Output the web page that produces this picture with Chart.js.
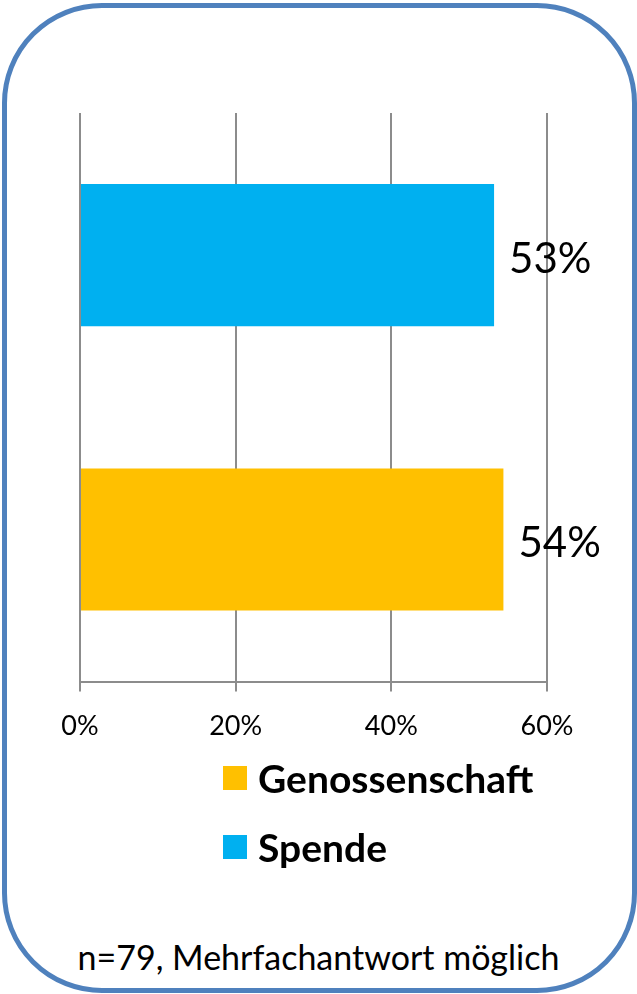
<!DOCTYPE html>
<html>
<head>
<meta charset="utf-8">
<script src="https://cdn.jsdelivr.net/npm/chart.js@4/dist/chart.umd.min.js"></script>
<style>
    html, body { margin:0; padding:0; background:#fff; }
    body { width:637px; height:994px; position:relative; overflow:hidden; font-family: Lato, "Open Sans", sans-serif; }
    #rahmen {
        position:absolute; left:2px; top:3px; width:625px; height:980px;
        border:5px solid #4f81bd; border-radius:100px;
    }
    #wrap { position:absolute; left:0; top:0; width:637px; height:760px; }
    #legende { position:absolute; left:223px; top:743px; }
    .item { display:flex; align-items:center; height:69px; font-weight:bold; font-size:39px; color:#000; }
    .item span.box { width:24px; height:24px; margin-right:11px; display:inline-block; }
    #fussnote { position:absolute; left:0; width:637px; top:936px; text-align:center; font-size:34px; color:#000; }
</style>
</head>
<body>
<div id="rahmen"></div>
<div id="wrap"><canvas id="grafik"></canvas></div>
<div id="legende"></div>
<div id="fussnote">n=79, Mehrfachantwort möglich</div>

<script>
// DATEN (oben nach unten)
const kategorien = ['Spende', 'Genossenschaft'];
const werte = [53.2, 54.4];
const farben = ['#00b0f0', '#ffc000'];
const ticksX = [0, 20, 40, 60];

// LEGENDE (Excel-Reihenfolge: umgekehrt)
const legende = document.getElementById('legende');
kategorien.slice().reverse().forEach((k, i) => {
    let idx = kategorien.length - 1 - i;
    legende.insertAdjacentHTML('beforeend',
        `<div class="item"><span class="box" style="background:${farben[idx]}"></span>${k}</div>`);
});

// WERTE AN DEN BALKEN
const wertLabels = {
    id: 'wertLabels',
    afterDatasetsDraw(chart){
        let ctx = chart.ctx;
        ctx.save();
        ctx.font = '42px Lato, "Open Sans", sans-serif';
        ctx.fillStyle = '#000';
        ctx.textBaseline = 'middle';
        chart.getDatasetMeta(0).data.forEach((bar, i) => {
            ctx.fillText(Math.round(werte[i]) + '%', bar.x + 15, bar.y + 4);
        });
        ctx.restore();
    }
};

let canvas = document.getElementById('grafik');

new Chart(canvas, {
    type: 'bar',
    data: {
        labels: kategorien,
        datasets: [{
            data: werte,
            backgroundColor: farben,
            categoryPercentage: 1,
            barPercentage: 0.5
        }]
    },
    options: {
        indexAxis: 'y',
        responsive: true,
        maintainAspectRatio: false,
        animation: false,
        layout: { padding: { left: 80, right: 90, top: 113, bottom: 0 } },
        plugins: {
            legend: { display: false },
            tooltip: { enabled: false }
        },
        scales: {
            y: { display: false },
            x: {
                min: 0,
                max: 60,
                afterBuildTicks: axis => { axis.ticks = ticksX.map(v => ({ value: v })); },
                grid: { color: '#8c8c8c', lineWidth: 2, tickLength: 10 },
                border: { color: '#8c8c8c', width: 2 },
                ticks: {
                    padding: 18,
                    color: '#000',
                    font: { family: 'Lato', size: 27 },
                    callback: v => v + '%'
                }
            }
        }
    },
    plugins: [wertLabels]
});
</script>
</body>
</html>
